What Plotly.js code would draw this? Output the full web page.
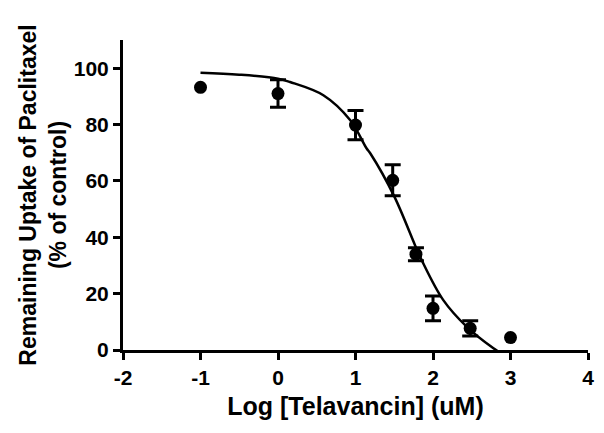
<!DOCTYPE html>
<html>
<head>
<meta charset="utf-8">
<script src="https://cdn.plot.ly/plotly-3.0.1.min.js"></script>
<style>
  body { margin: 0; background: #fff; }
  #chart { width: 604px; height: 433px; }
</style>
</head>
<body>
<div id="chart"></div>
<script>
// measured points (log uM, % of control)
var log_conc = [-1, 0, 1, 1.48, 1.78, 2, 2.48, 3];
var uptake = [93.2, 91.0, 79.8, 60.2, 34.0, 14.8, 7.7, 4.4];
var uptake_err = [NaN, 4.9, 5.2, 5.5, 2.3, 4.4, 2.7, NaN];

// fitted curve
var fit_x = [-1.0, -0.5, 0.0, 0.155, 0.585, 0.93, 1.144, 1.19, 1.5, 1.768, 1.854, 2.133, 2.434, 2.78, 2.9];
var fit_y = [98.4, 97.7, 96.3, 95.1, 90.4, 81.6, 71.5, 69.8, 54.5, 37.2, 31.9, 17.7, 8.3, 0.6, -1.5];

var xTicks = [-2, -1, 0, 1, 2, 3, 4];
var xTickText = ['-2', '-1', '0', '1', '2', '3', '4'];
var yTicks = [0, 20, 40, 60, 80, 100];

var fontFam = 'Arial, "Liberation Sans", sans-serif';

var traces = [
  {
    x: fit_x,
    y: fit_y,
    mode: 'lines',
    type: 'scatter',
    line: { color: '#000', width: 2.5, shape: 'spline', smoothing: 1 },
    hoverinfo: 'skip'
  },
  {
    x: log_conc,
    y: uptake,
    mode: 'markers',
    type: 'scatter',
    marker: { color: '#000', size: 13 },
    error_y: { type: 'data', array: uptake_err, visible: true, color: '#000', thickness: 3, width: 8 }
  }
];

var layout = {
  width: 604,
  height: 433,
  showlegend: false,
  paper_bgcolor: '#fff',
  plot_bgcolor: '#fff',
  font: { family: fontFam, color: '#000' },
  margin: { l: 123, r: 16, t: 40, b: 83 },
  xaxis: {
    range: [-2, 4],
    tickvals: xTicks,
    ticktext: xTickText,
    ticks: 'outside',
    ticklen: 7,
    tickwidth: 3,
    tickcolor: '#000',
    showline: true,
    linewidth: 3,
    linecolor: '#000',
    showgrid: false,
    zeroline: false,
    tickfont: { size: 21, weight: 'bold' },
    title: { text: 'Log [Telavancin] (uM)', font: { size: 25, weight: 'bold' }, standoff: 10 }
  },
  yaxis: {
    range: [0, 110],
    tickvals: yTicks,
    ticks: 'outside',
    ticklen: 7,
    tickwidth: 3,
    tickcolor: '#000',
    showline: true,
    linewidth: 3,
    linecolor: '#000',
    showgrid: false,
    zeroline: false,
    tickfont: { size: 21, weight: 'bold' },
    title: { text: 'Remaining Uptake of Paclitaxel<br>(% of control)', font: { size: 23, weight: 'bold' }, standoff: 1 }
  }
};

Plotly.newPlot('chart', traces, layout, { displayModeBar: false, staticPlot: true });
</script>
</body>
</html>
